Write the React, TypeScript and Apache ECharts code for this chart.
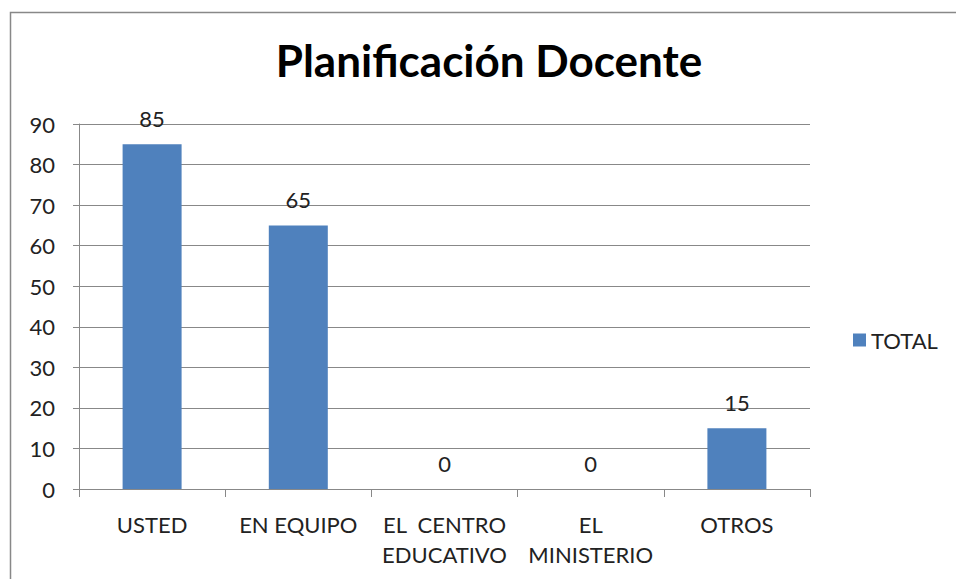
import React, { useEffect, useRef } from "react";
import * as echarts from "echarts";

const categories = ["USTED", "EN EQUIPO", "EL  CENTRO\nEDUCATIVO", "EL\nMINISTERIO", "OTROS"];
const totals = [85, 65, 0, 0, 15];
const seriesName = "TOTAL";
const titleText = "Planificación Docente";

const FONT = "Lato, 'Open Sans', sans-serif";

export default function App() {
  const ref = useRef<HTMLDivElement>(null);
  useEffect(() => {
    document.body.style.margin = "0";
    const chart = echarts.init(ref.current!, null, { renderer: "svg" });
    chart.setOption({
      animation: false,
      backgroundColor: "#ffffff",
      title: {
        text: titleText,
        left: 489,
        textAlign: "center",
        top: 38,
        padding: 0,
        textStyle: { fontFamily: FONT, fontWeight: "bold", fontSize: 44, color: "#000" },
      },
      graphic: [
        {
          type: "rect",
          shape: { x: 10.5, y: 12.5, width: 1000, height: 700 },
          style: { fill: "none", stroke: "#888", lineWidth: 1.5 },
          silent: true,
        },
      ],
      legend: {
        data: [seriesName],
        orient: "vertical",
        left: 853,
        top: 329,
        padding: 0,
        itemWidth: 13,
        itemHeight: 13,
        itemGap: 8,
        icon: "rect",
        textStyle: { fontFamily: FONT, fontSize: 22, color: "#222" },
      },
      grid: { left: 79, right: 146, top: 124, bottom: 90, containLabel: false },
      xAxis: {
        type: "category",
        data: categories,
        axisLine: { lineStyle: { color: "#888", width: 1 } },
        axisTick: { show: true, length: 8, alignWithLabel: false, lineStyle: { color: "#888" } },
        axisLabel: {
          fontFamily: FONT,
          fontSize: 22,
          color: "#222",
          margin: 20,
          lineHeight: 30,
          interval: 0,
        },
      },
      yAxis: {
        type: "value",
        min: 0,
        max: 90,
        interval: 10,
        axisLine: { show: true, lineStyle: { color: "#888", width: 1 } },
        axisTick: { show: true, length: 6, lineStyle: { color: "#888" } },
        splitLine: { lineStyle: { color: "#888", width: 1 } },
        axisLabel: { fontFamily: FONT, fontSize: 22, color: "#222", margin: 24 },
      },
      series: [
        {
          name: seriesName,
          type: "bar",
          data: totals,
          barWidth: 59,
          itemStyle: { color: "#4F81BD" },
          label: {
            show: true,
            position: "top",
            distance: 15,
            fontFamily: FONT,
            fontSize: 22,
            color: "#222",
          },
        },
      ],
    });
    return () => chart.dispose();
  }, []);
  return <div ref={ref} style={{ position: "absolute", left: 0, top: 0, width: 956, height: 579 }} />;
}
